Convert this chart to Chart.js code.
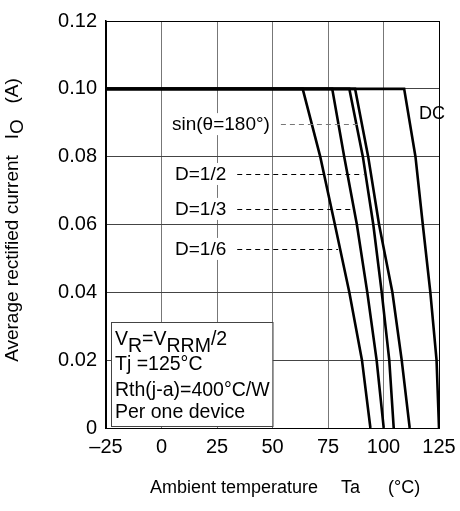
<!DOCTYPE html>
<html>
<head>
<meta charset="utf-8">
<script src="https://cdn.jsdelivr.net/npm/chart.js@4"></script>
<style>
  html, body { margin: 0; padding: 0; background: #fff; }
  canvas { display: block; }
</style>
</head>
<body>
<canvas id="chart" width="460" height="511"></canvas>
<script>
// Derating curves: Io (A) vs ambient temperature Ta (°C)
const IO_LEVELS = [0.10, 0.08, 0.06, 0.04, 0.02, 0];
const TA_START = -25;
const TA_DC  = [109.3, 114.4, 117.7, 121.1, 123.9, 125.0];
const TA_SIN = [87.2, 93.1, 98.0, 104.0, 108.2, 111.8];
const TA_D12 = [84.6, 90.7, 95.4, 99.2, 102.6, 104.6];
const TA_D13 = [76.9, 82.3, 88.0, 92.7, 96.9, 100.1];
const TA_D16 = [63.6, 71.5, 78.1, 84.6, 90.3, 94.1];

const X_TICKS = [-25, 0, 25, 50, 75, 100, 125];
const Y_TICKS = [0, 0.02, 0.04, 0.06, 0.08, 0.10, 0.12];

// curve labels with leader lines (Io where the label sits)
const LABEL_TEXT = ['sin(θ=180°)', 'D=1/2', 'D=1/3', 'D=1/6'];
const LABEL_CURVE = [TA_SIN, TA_D12, TA_D13, TA_D16];
const LABEL_IO = [0.0896, 0.0749, 0.0646, 0.0528];

const FONT = "'Liberation Sans', Arial, Helvetica, sans-serif";
Chart.defaults.font.family = FONT;
Chart.defaults.color = '#000';

function curve(ta) {
  return [{ x: TA_START, y: IO_LEVELS[0] }].concat(ta.map((t, i) => ({ x: t, y: IO_LEVELS[i] })));
}

function taAt(ta, io) {
  for (let i = 0; i < IO_LEVELS.length - 1; i++) {
    const a = IO_LEVELS[i], b = IO_LEVELS[i + 1];
    if (io <= a && io >= b) return ta[i] + (ta[i + 1] - ta[i]) * (a - io) / (a - b);
  }
  return ta[0];
}

const datasets = [TA_DC, TA_SIN, TA_D12, TA_D13, TA_D16].map(ta => ({
  data: curve(ta),
  showLine: true,
  borderColor: '#000',
  borderWidth: 2.6,
  pointRadius: 0,
  tension: 0
}));

const annotations = {
  id: 'annotations',
  afterDatasetsDraw(chart) {
    const { ctx, chartArea: area } = chart;
    const x = chart.scales.x, y = chart.scales.y;
    ctx.save();

    // curve labels + dashed leaders
    ctx.font = '19px ' + FONT;
    LABEL_TEXT.forEach((txt, i) => {
      const isSin = i === 0;
      const py = y.getPixelForValue(LABEL_IO[i]);
      const px = isSin ? 172 : 175;
      const w = ctx.measureText(txt).width;
      ctx.fillStyle = '#fff';
      ctx.fillRect(px - 2, py - 11, w + 4, 22);
      ctx.fillStyle = '#000';
      ctx.textBaseline = 'middle';
      ctx.textAlign = 'left';
      ctx.fillText(txt, px, py + 1);
      const endX = x.getPixelForValue(taAt(LABEL_CURVE[i], LABEL_IO[i])) - 2;
      ctx.beginPath();
      ctx.setLineDash([5, 4]);
      ctx.lineWidth = 1;
      ctx.strokeStyle = isSin ? '#777' : '#000';
      ctx.moveTo(px + w + 11, Math.round(py) + 0.5);
      ctx.lineTo(endX, Math.round(py) + 0.5);
      ctx.stroke();
    });
    ctx.setLineDash([]);

    // DC label
    ctx.font = '18px ' + FONT;
    ctx.textAlign = 'center';
    ctx.textBaseline = 'middle';
    ctx.fillStyle = '#000';
    ctx.fillText('DC', x.getPixelForValue(121.8), y.getPixelForValue(0.0925));

    // condition box
    const bx0 = area.left + 5, bx1 = x.getPixelForValue(50), by0 = area.bottom - 106, by1 = area.bottom - 2;
    ctx.fillStyle = '#fff';
    ctx.fillRect(bx0, by0, bx1 - bx0, by1 - by0);
    ctx.strokeStyle = '#444';
    ctx.lineWidth = 1;
    ctx.strokeRect(bx0 + 0.5, by0 + 0.5, bx1 - bx0, by1 - by0);

    ctx.fillStyle = '#000';
    ctx.textAlign = 'left';
    ctx.textBaseline = 'alphabetic';
    ctx.font = '19.5px ' + FONT;
    const tx = bx0 + 4;
    let cx = tx;
    [['V', 0], ['R', 7], ['=V', 0], ['RRM', 7], ['/2', 0]].forEach(([s, dy]) => {
      ctx.fillText(s, cx, by0 + 23 + dy);
      cx += ctx.measureText(s).width;
    });
    ctx.fillText('Tj =125°C', tx, by0 + 48);
    ctx.fillText('Rth(j-a)=400°C/W', tx, by0 + 73.5);
    ctx.fillText('Per one device', tx, by0 + 96);

    // frame
    ctx.strokeStyle = '#000';
    ctx.lineWidth = 1;
    ctx.strokeRect(area.left + 0.5, area.top + 0.5, area.right - area.left, area.bottom - area.top);

    // axis titles
    ctx.font = '18px ' + FONT;
    ctx.textAlign = 'left';
    ctx.fillText('Ambient temperature', 150, 493);
    ctx.fillText('Ta', 341, 493);
    ctx.fillText('(°C)', 388, 493);

    ctx.font = '19px ' + FONT;
    ctx.translate(13, 220);
    ctx.rotate(-Math.PI / 2);
    const parts = [['Average rectified current   I', 5], ['O', 10], ['   (A)', 5]];
    const total = parts.reduce((s, p) => s + ctx.measureText(p[0]).width, 0);
    let lx = -total / 2;
    parts.forEach(([s, by]) => {
      ctx.fillText(s, lx, by);
      lx += ctx.measureText(s).width;
    });
    ctx.restore();
  }
};

new Chart(document.getElementById('chart'), {
  type: 'scatter',
  data: { datasets },
  options: {
    responsive: false,
    animation: false,
    layout: { padding: { top: 21, right: 21, left: 0, bottom: 0 } },
    plugins: { legend: { display: false }, tooltip: { enabled: false } },
    scales: {
      x: {
        type: 'linear',
        min: -25,
        max: 125,
        afterBuildTicks: s => { s.ticks = X_TICKS.map(v => ({ value: v })); },
        afterFit: s => { s.height = 83; s.paddingLeft = 0; s.paddingRight = 0; },
        ticks: {
          font: { size: 20 },
          color: '#000',
          padding: 7,
          maxRotation: 0,
          autoSkip: false,
          callback: v => v < 0 ? '\u2013' + Math.abs(v) : String(v)
        },
        grid: { color: '#777', drawTicks: false },
        border: { color: '#000' }
      },
      y: {
        type: 'linear',
        min: 0,
        max: 0.12,
        afterBuildTicks: s => { s.ticks = Y_TICKS.map(v => ({ value: v })); },
        afterFit: s => { s.width = 106; s.paddingTop = 0; s.paddingBottom = 0; },
        ticks: {
          font: { size: 20 },
          color: '#000',
          padding: 9,
          autoSkip: false,
          callback: v => v === 0 ? '0' : v.toFixed(2)
        },
        grid: { color: '#444', drawTicks: false },
        border: { color: '#000', width: 1.5 }
      }
    }
  },
  plugins: [annotations]
});
</script>
</body>
</html>
